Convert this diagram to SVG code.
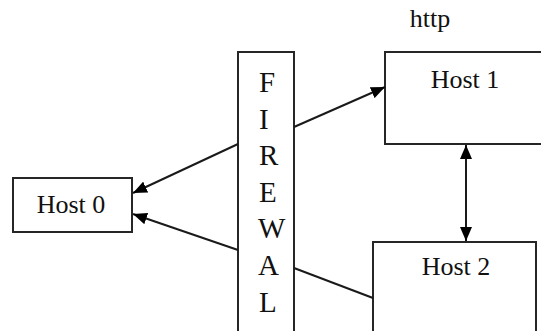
<svg xmlns="http://www.w3.org/2000/svg" width="541" height="331" viewBox="0 0 541 331">
<style>
.box{fill:#fff;stroke:#262626;stroke-width:2}
.lbl{font-family:"Liberation Serif","Times New Roman",serif;font-size:26px;fill:#111;text-anchor:middle}
.fw{font-family:"Liberation Serif","Times New Roman",serif;font-size:29px;fill:#111}
.conn{stroke:#1a1a1a;stroke-width:2;fill:none}
</style>
<defs>
<marker id="arr" viewBox="0 0 14 12" refX="14" refY="6" markerWidth="14" markerHeight="12" markerUnits="userSpaceOnUse" orient="auto-start-reverse">
<path d="M0,0 L14,6 L0,12 z" fill="#000"/>
</marker>
</defs>
<rect width="541" height="331" fill="#fff"/>
<text class="lbl" x="430" y="27">http</text>
<g id="host0">
<rect class="box" x="13" y="178" width="119" height="54"/>
<text class="lbl" x="71" y="213">Host 0</text>
</g>
<g id="firewall">
<rect class="box" x="238" y="52" width="56" height="300"/>
<text class="fw" x="259" y="92">F</text>
<text class="fw" x="259" y="128.6">I</text>
<text class="fw" x="259" y="165.2">R</text>
<text class="fw" x="259" y="201.8">E</text>
<text class="fw" x="258" y="238.4">W</text>
<text class="fw" x="258" y="275">A</text>
<text class="fw" x="259" y="311.6">L</text>
</g>
<g id="host1">
<rect class="box" x="385" y="52" width="170" height="92"/>
<text class="lbl" x="465" y="88">Host 1</text>
</g>
<g id="host2">
<rect class="box" x="373" y="242" width="163" height="120"/>
<text class="lbl" x="456" y="275">Host 2</text>
</g>
<g id="connectors">
<path class="conn" d="M294,127 L385,87" marker-end="url(#arr)"/>
<path class="conn" d="M238,144 L133,193" marker-end="url(#arr)"/>
<path class="conn" d="M238,250 L133,214" marker-end="url(#arr)"/>
<path class="conn" d="M294,268 L373,298"/>
<path class="conn" d="M466,145 L466,241" marker-start="url(#arr)" marker-end="url(#arr)"/>
</g>
</svg>
